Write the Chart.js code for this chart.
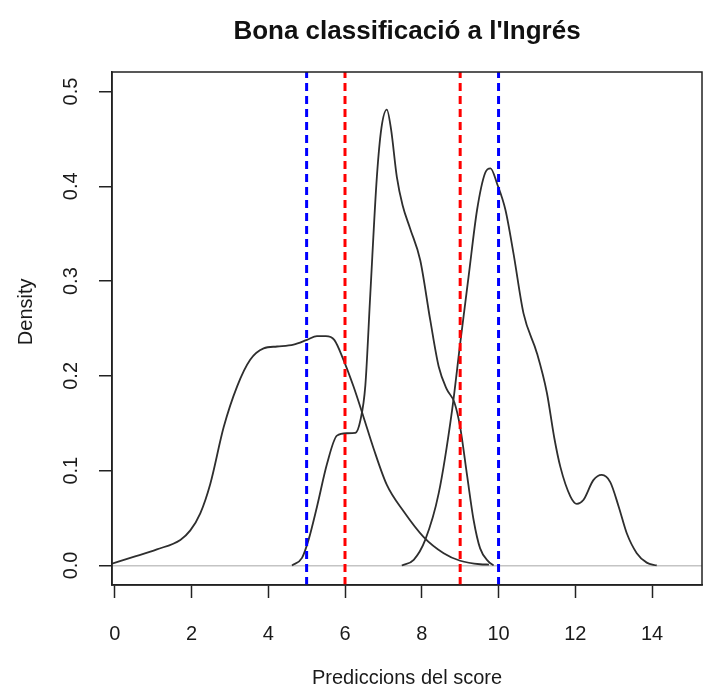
<!DOCTYPE html>
<html>
<head>
<meta charset="utf-8">
<title>Bona classificació a l'Ingrés</title>
<script src="https://cdn.jsdelivr.net/npm/chart.js@4.4.1/dist/chart.umd.min.js"></script>
<style>
  html, body { margin: 0; padding: 0; background: #fff; }
  #wrap { width: 703px; height: 690px; }
</style>
</head>
<body>
<div id="wrap"><canvas id="myChart" width="703" height="690"></canvas></div>
<script>
// density curves (x = score, y = density)
const lowX = [-0.07, 0.49, 1.1, 1.71, 1.97, 2.23, 2.49, 2.84, 3.19, 3.53, 3.88, 4.23, 4.66, 5.01, 5.27, 5.5, 5.72, 5.96, 6.22, 6.48, 6.74, 7.09, 7.53, 8.05, 8.57, 9.0, 9.52, 9.75];
const lowY = [0.002, 0.009, 0.017, 0.027, 0.037, 0.055, 0.086, 0.146, 0.189, 0.217, 0.229, 0.231, 0.233, 0.238, 0.242, 0.242, 0.238, 0.217, 0.189, 0.157, 0.124, 0.085, 0.057, 0.030, 0.013, 0.005, 0.0013, 0.001];

const midX = [4.62, 4.88, 5.05, 5.27, 5.53, 5.79, 6.05, 6.27, 6.4, 6.53, 6.66, 6.83, 6.95, 7.09, 7.2, 7.35, 7.5, 7.7, 7.96, 8.22, 8.44, 8.65, 8.85, 9.0, 9.18, 9.35, 9.52, 9.74, 9.87];
const midY = [0.0, 0.008, 0.027, 0.062, 0.107, 0.137, 0.1395, 0.14, 0.153, 0.19, 0.287, 0.41, 0.462, 0.481, 0.46, 0.41, 0.38, 0.355, 0.322, 0.259, 0.21, 0.186, 0.172, 0.146, 0.095, 0.048, 0.018, 0.004, 0.0];

const highX = [7.48, 7.79, 8.09, 8.44, 8.79, 9.0, 9.22, 9.44, 9.65, 9.79, 9.96, 10.18, 10.39, 10.65, 11.0, 11.26, 11.45, 11.61, 11.87, 12.04, 12.21, 12.47, 12.69, 12.91, 13.13, 13.34, 13.6, 13.86, 14.12];
const highY = [0.0, 0.006, 0.027, 0.076, 0.164, 0.234, 0.305, 0.375, 0.414, 0.419, 0.403, 0.375, 0.329, 0.266, 0.224, 0.182, 0.135, 0.104, 0.073, 0.065, 0.069, 0.090, 0.0955, 0.088, 0.062, 0.034, 0.013, 0.003, 0.0];

// cut-off lines
const blueCuts = [5, 10];
const redCuts = [6, 9];

const xTicks = [0, 2, 4, 6, 8, 10, 12, 14];
const yTicks = [0, 0.1, 0.2, 0.3, 0.4, 0.5];
const xLimits = [-0.07, 15.3];
const yLimits = [-0.0206, 0.5206];

Chart.defaults.font.family = "'Liberation Sans', Arial, sans-serif";
Chart.defaults.color = '#1a1a1a';

function pairs(xs, ys) {
    return xs.map((x, i) => ({ x: x, y: ys[i] }));
}

function curve(xs, ys) {
    return {
        data: pairs(xs, ys),
        xAxisID: 'x',
        yAxisID: 'y',
        borderColor: '#2e2e2e',
        borderWidth: 1.8,
        pointRadius: 0,
        fill: false,
        cubicInterpolationMode: 'monotone',
        order: 1
    };
}

function cutLine(x, color) {
    return {
        data: [{ x: x, y: yLimits[0] }, { x: x, y: yLimits[1] }],
        xAxisID: 'x',
        yAxisID: 'y',
        borderColor: color,
        borderWidth: 3,
        borderDash: [8, 5],
        pointRadius: 0,
        fill: false,
        order: 0
    };
}

// box round the plot region, like R's box()
const boxPlugin = {
    id: 'box',
    afterDraw(chart) {
        const a = chart.chartArea;
        const ctx = chart.ctx;
        ctx.save();
        ctx.strokeStyle = '#222';
        ctx.lineWidth = 1.5;
        ctx.strokeRect(a.left, a.top, a.right - a.left, a.bottom - a.top);
        ctx.restore();
    }
};

const datasets = [
    curve(lowX, lowY),
    curve(midX, midY),
    curve(highX, highY)
];
blueCuts.forEach(c => datasets.push(cutLine(c, '#0000ff')));
redCuts.forEach(c => datasets.push(cutLine(c, '#ff0000')));

const ctx = document.getElementById('myChart').getContext('2d');
const myChart = new Chart(ctx, {
    type: 'line',
    data: { datasets: datasets },
    plugins: [boxPlugin],
    options: {
        responsive: false,
        animation: false,
        layout: { padding: { left: 0, right: 1, top: 0, bottom: 0 } },
        plugins: {
            legend: { display: false },
            tooltip: { enabled: false }
        },
        scales: {
            x: {
                type: 'linear',
                min: xLimits[0],
                max: xLimits[1],
                afterBuildTicks: s => { s.ticks = xTicks.map(v => ({ value: v })); },
                afterFit: s => { s.height = 105; },
                ticks: {
                    autoSkip: false,
                    maxRotation: 0,
                    padding: 24,
                    font: { size: 20 },
                    callback: v => String(v)
                },
                grid: {
                    drawOnChartArea: false,
                    tickLength: 13,
                    tickColor: '#222',
                    tickWidth: 1.5
                },
                border: { display: true, color: '#222', width: 1.5 },
                title: {
                    display: true,
                    text: 'Prediccions del score',
                    font: { size: 20 },
                    padding: { top: 0, bottom: 0 }
                }
            },
            // top axis only carries the main title, so it centres over the plot region
            top: {
                type: 'linear',
                position: 'top',
                min: xLimits[0],
                max: xLimits[1],
                afterFit: s => { s.height = 72; },
                ticks: { display: false },
                grid: { display: false },
                border: { display: false },
                title: {
                    display: true,
                    text: "Bona classificació a l'Ingrés",
                    font: { size: 26, weight: 'bold' },
                    color: '#111',
                    padding: { top: 16, bottom: 0 }
                }
            },
            y: {
                type: 'linear',
                min: yLimits[0],
                max: yLimits[1],
                afterBuildTicks: s => { s.ticks = yTicks.map(v => ({ value: v })); },
                afterFit: s => { s.width = 112; },
                ticks: {
                    minRotation: 90,
                    maxRotation: 90,
                    crossAlign: 'center',
                    padding: 14,
                    font: { size: 20 },
                    callback: v => v.toFixed(1)
                },
                grid: {
                    color: c => (c.tick && c.tick.value === 0) ? '#c4c4c4' : 'rgba(0,0,0,0)',
                    lineWidth: 1.5,
                    tickLength: 13,
                    tickColor: '#222',
                    tickWidth: 1.5
                },
                border: { display: true, color: '#222', width: 1.5 },
                title: {
                    display: true,
                    text: '      Density',
                    font: { size: 20 },
                    padding: { top: 14, bottom: 0 }
                }
            }
        }
    }
});
</script>
</body>
</html>
